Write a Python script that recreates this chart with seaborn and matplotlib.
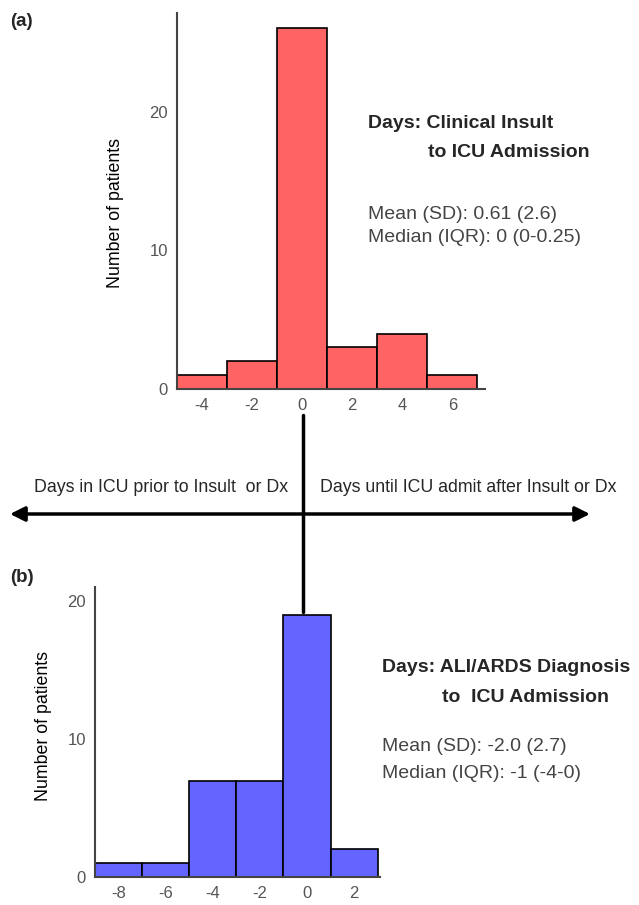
import matplotlib
matplotlib.use("Agg")
import matplotlib.pyplot as plt
import seaborn as sns
from matplotlib.lines import Line2D

sns.set_style("white")
plt.rcParams['font.family'] = ['Liberation Sans', 'DejaVu Sans']

# (a) Days: clinical insult to ICU admission (bin centres, width 2)
insult_days = [-4, -2, 0, 2, 4, 6]
insult_counts = [1, 2, 26, 3, 4, 1]
insult_bins = [-5, -3, -1, 1, 3, 5, 7]

# (b) Days: ALI/ARDS diagnosis to ICU admission
dx_days = [-8, -6, -4, -2, 0, 2]
dx_counts = [1, 1, 7, 7, 19, 2]
dx_bins = [-9, -7, -5, -3, -1, 1, 3]

W, H = 639, 905
fig = plt.figure(figsize=(W / 100, H / 100), dpi=100)


def px(x, y):
    return x / W, 1 - y / H


def style_axis(ax, xlim, ylim, yticks, xticks, label_xy):
    ax.set_xlim(*xlim)
    ax.set_ylim(*ylim)
    ax.set_yticks(yticks)
    ax.set_xticks(xticks)
    ax.set_xticklabels([str(t) for t in xticks])
    for s in ['top', 'right']:
        ax.spines[s].set_visible(False)
    for s in ['left', 'bottom']:
        ax.spines[s].set_color('#444444')
        ax.spines[s].set_linewidth(1.5)
    ax.tick_params(axis='both', direction='out', length=2.5, width=2.5,
                   color='black', labelcolor='#555555', labelsize=12, pad=4)
    ax.set_xlabel('')
    ax.set_ylabel('Number of patients', fontsize=12.8, color='black')
    ax.yaxis.set_label_coords(*label_xy)


# panel (a)
ax1 = fig.add_axes([177 / W, 1 - 389 / H, 308 / W, (389 - 13) / H])
sns.histplot(x=insult_days, weights=insult_counts, bins=insult_bins, ax=ax1,
             color='#FF6464', alpha=1, edgecolor='black', linewidth=1.2)
style_axis(ax1, (-5, 7.3), (0, 27.1), [0, 10, 20], [-4, -2, 0, 2, 4, 6],
           (-0.172, 0.468))

# panel (b)
ax2 = fig.add_axes([95 / W, 1 - 877 / H, 285 / W, (877 - 587) / H])
sns.histplot(x=dx_days, weights=dx_counts, bins=dx_bins, ax=ax2,
             color='#6464FF', alpha=1, edgecolor='black', linewidth=1.2)
style_axis(ax2, (-9, 3.1), (0, 21.05), [0, 10, 20], [-8, -6, -4, -2, 0, 2],
           (-0.15, 0.52))

# panel letters
fig.text(*px(10, 22), '(a)', fontsize=13.5, weight='bold', va='center')
fig.text(*px(10, 577), '(b)', fontsize=13.5, weight='bold', va='center')

# annotations (a)
fig.text(*px(368, 123), 'Days: Clinical Insult', fontsize=14, weight='bold', va='center')
fig.text(*px(428, 152), 'to ICU Admission', fontsize=14, weight='bold', va='center')
fig.text(*px(368, 214), 'Mean (SD): 0.61 (2.6)', fontsize=14, color='#444444', va='center')
fig.text(*px(368, 238), 'Median (IQR): 0 (0-0.25)', fontsize=14, color='#444444', va='center')

# annotations (b)
fig.text(*px(382, 667), 'Days: ALI/ARDS Diagnosis', fontsize=14, weight='bold', va='center')
fig.text(*px(442, 697), 'to  ICU Admission', fontsize=14, weight='bold', va='center')
fig.text(*px(382, 746), 'Mean (SD): -2.0 (2.7)', fontsize=14, color='#444444', va='center')
fig.text(*px(382, 773), 'Median (IQR): -1 (-4-0)', fontsize=14, color='#444444', va='center')

# timeline arrow and divider
fig.add_artist(Line2D([303 / W, 303 / W], [1 - 415 / H, 1 - 612 / H],
                      transform=fig.transFigure, color='black', lw=2.5))
plt.annotate('', xy=px(590, 514), xytext=px(10, 514),
             xycoords='figure fraction', textcoords='figure fraction',
             arrowprops=dict(arrowstyle='<|-|>', color='black', lw=2.5,
                             mutation_scale=22, shrinkA=0, shrinkB=0))
fig.text(*px(34, 487), 'Days in ICU prior to Insult  or Dx', fontsize=12.8, va='center')
fig.text(*px(320, 487), 'Days until ICU admit after Insult or Dx', fontsize=12.8, va='center')

fig.savefig('out.png', dpi=100)
